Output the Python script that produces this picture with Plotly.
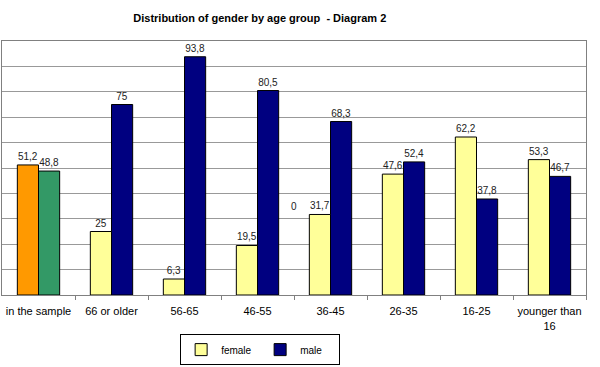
import plotly.graph_objects as go

categories = ["younger than<br>16", "16-25", "26-35", "36-45", "46-55", "56-65", "66 or older", "in the sample"]
male = [46.7, 37.8, 52.4, 68.3, 80.5, 93.8, 75, 48.8]
female = [53.3, 62.2, 47.6, 31.7, 19.5, 6.3, 25, 51.2]
male_colors = ["#000080"] * 7 + ["#339966"]
female_colors = ["#FFFF99"] * 7 + ["#FF9900"]


def fmt(v):
    return f"{v:g}".replace(".", ",")


fig = go.Figure()
fig.add_trace(go.Bar(
    name="male", x=categories, y=male,
    marker=dict(color=male_colors, line=dict(color="#000000", width=1)),
    text=[fmt(v) for v in male], textposition="outside", cliponaxis=False,
    textfont=dict(size=10, color="#222222"),
))
fig.add_trace(go.Bar(
    name="female", x=categories, y=female,
    marker=dict(color=female_colors, line=dict(color="#000000", width=1)),
    text=[fmt(v) for v in female], textposition="outside", cliponaxis=False,
    textfont=dict(size=10, color="#222222"),
))

fig.add_annotation(text="0", xref="paper", yref="y", x=0.5, y=35,
                   showarrow=False, font=dict(size=10, color="#222222"))

fig.update_layout(
    width=600, height=367,
    margin=dict(l=2, r=14, t=41, b=70),
    paper_bgcolor="white", plot_bgcolor="white",
    font=dict(family="Liberation Sans, Arial, sans-serif", size=11, color="#000000"),
    title=dict(text="<b>Distribution of gender by age group  - Diagram 2</b>",
               x=0.433, xanchor="center", y=1 - 18 / 367, yanchor="middle",
               yref="container", font=dict(size=11, color="#000000")),
    barmode="group", bargap=0.42, bargroupgap=0,
    showlegend=True,
    legend=dict(orientation="h", x=0.442, xanchor="center", y=-0.215, yanchor="middle",
                bordercolor="#000000", borderwidth=1, traceorder="reversed",
                font=dict(size=10), itemwidth=30, entrywidth=34, entrywidthmode="pixels",
                tracegroupgap=0),
    xaxis=dict(autorange="reversed", showline=True, linecolor="#808080", mirror=True,
               ticks="outside", tickson="boundaries", ticklen=4, tickcolor="#808080",
               showgrid=False, tickfont=dict(size=11), tickangle=0, ticklabelstandoff=6),
    yaxis=dict(range=[0, 100], dtick=10, showgrid=True, gridcolor="#999999",
               showline=True, linecolor="#808080", mirror=True,
               showticklabels=False, zeroline=False),
)

fig.write_html("out.html", config={"displayModeBar": False},
               post_script="document.body.style.margin='0';")
